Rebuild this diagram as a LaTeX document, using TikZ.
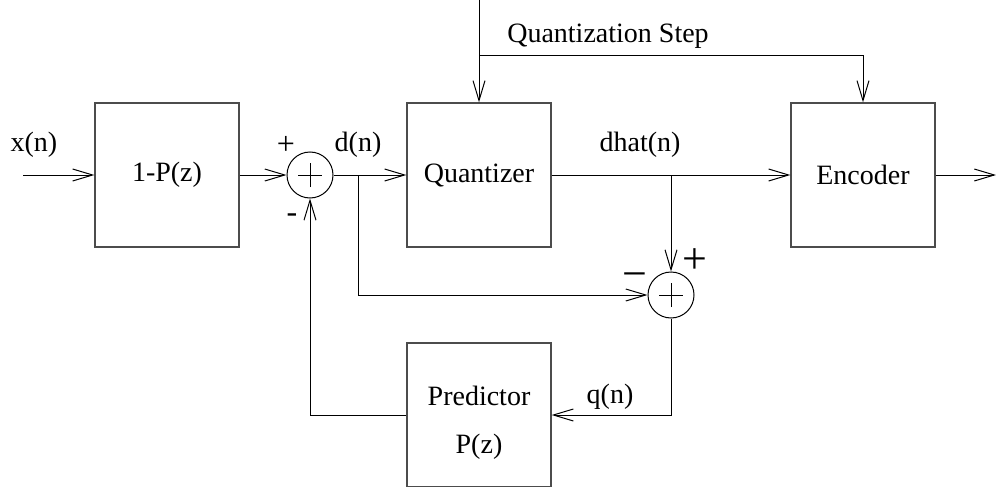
\documentclass[tikz,border=0pt]{standalone}
\usepackage{fontspec}
\setmainfont{Liberation Serif}
\usetikzlibrary{arrows.meta}
\begin{document}
\begin{tikzpicture}[
  x=1pt, y=-1pt,
  every node/.style={font=\fontsize{28}{34}\selectfont},
  blk/.style={rectangle, draw, minimum size=144pt, inner sep=0pt, line width=1.3pt, draw=black!70},
  sumnode/.style={circle, draw, minimum size=46pt, inner sep=0pt, line width=1pt,
    path picture={\draw[line width=1pt] (path picture bounding box.center) +(-12pt,0) -- +(12pt,0)
      (path picture bounding box.center) +(0,-12pt) -- +(0,12pt);}},
  sgn/.style={inner sep=0pt, font=\fontsize{32}{36}\selectfont},
  bigsgn/.style={inner sep=0pt, font=\fontsize{44}{48}\selectfont},
  >={Straight Barb[length=20pt,width=12pt,line width=1pt]},
  line width=1pt
]
  \useasboundingbox (0,0) rectangle (996,487);
  \clip (0,0) rectangle (996,486);

  % blocks
  \node[blk] (onep) at (167,175) {1-P(z)};
  \node[blk] (quant) at (479,175) {Quantizer};
  \node[blk] (enc) at (863,175) {Encoder};
  \node[blk] (pred) at (479,415) {};
  \node[align=center] (predtxt) at (479,423) {Predictor\\[14pt]P(z)};

  % summing points
  \node[sumnode] (sum1) at (310,175) {};
  \node[sumnode] (sum2) at (671,295) {};

  % free ends and branch points
  \coordinate (in) at (23,175);
  \coordinate (out) at (996,175);
  \coordinate (stepin) at (479,0);
  \coordinate (stepsplit) at (479,56);
  \coordinate (dsplit) at (358,175);
  \coordinate (hsplit) at (671,175);

  % signals
  \draw[->] (in) -- (onep);
  \draw[->] (onep) -- (sum1);
  \draw[->] (sum1) -- (quant);
  \draw[->] (quant) -- (enc);
  \draw[->] (enc) -- (out);
  \draw[->] (stepin) -- (quant);
  \draw[->] (stepsplit) -| (enc.north);
  \draw[->] (dsplit) |- (sum2.west);
  \draw[->] (hsplit) -- (sum2.north);
  \draw[->] (sum2.south) |- (pred.east);
  \draw[->] (pred.west) -| (sum1.south);

  % labels
  \node (xn) at (34,145) {x(n)};
  \node (dn) at (358,145) {d(n)};
  \node (dhat) at (640,145) {dhat(n)};
  \node (qn) at (610,397) {q(n)};
  \node (qstep) at (608,36) {Quantization Step};
  \node[sgn] (s1p) at (286,145) {+};
  \node[sgn] (s1m) at (292,218) {-};
  \node[bigsgn] (s2m) at (635,281) {−};
  \node[bigsgn] (s2p) at (695,261) {+};
\end{tikzpicture}
\end{document}
